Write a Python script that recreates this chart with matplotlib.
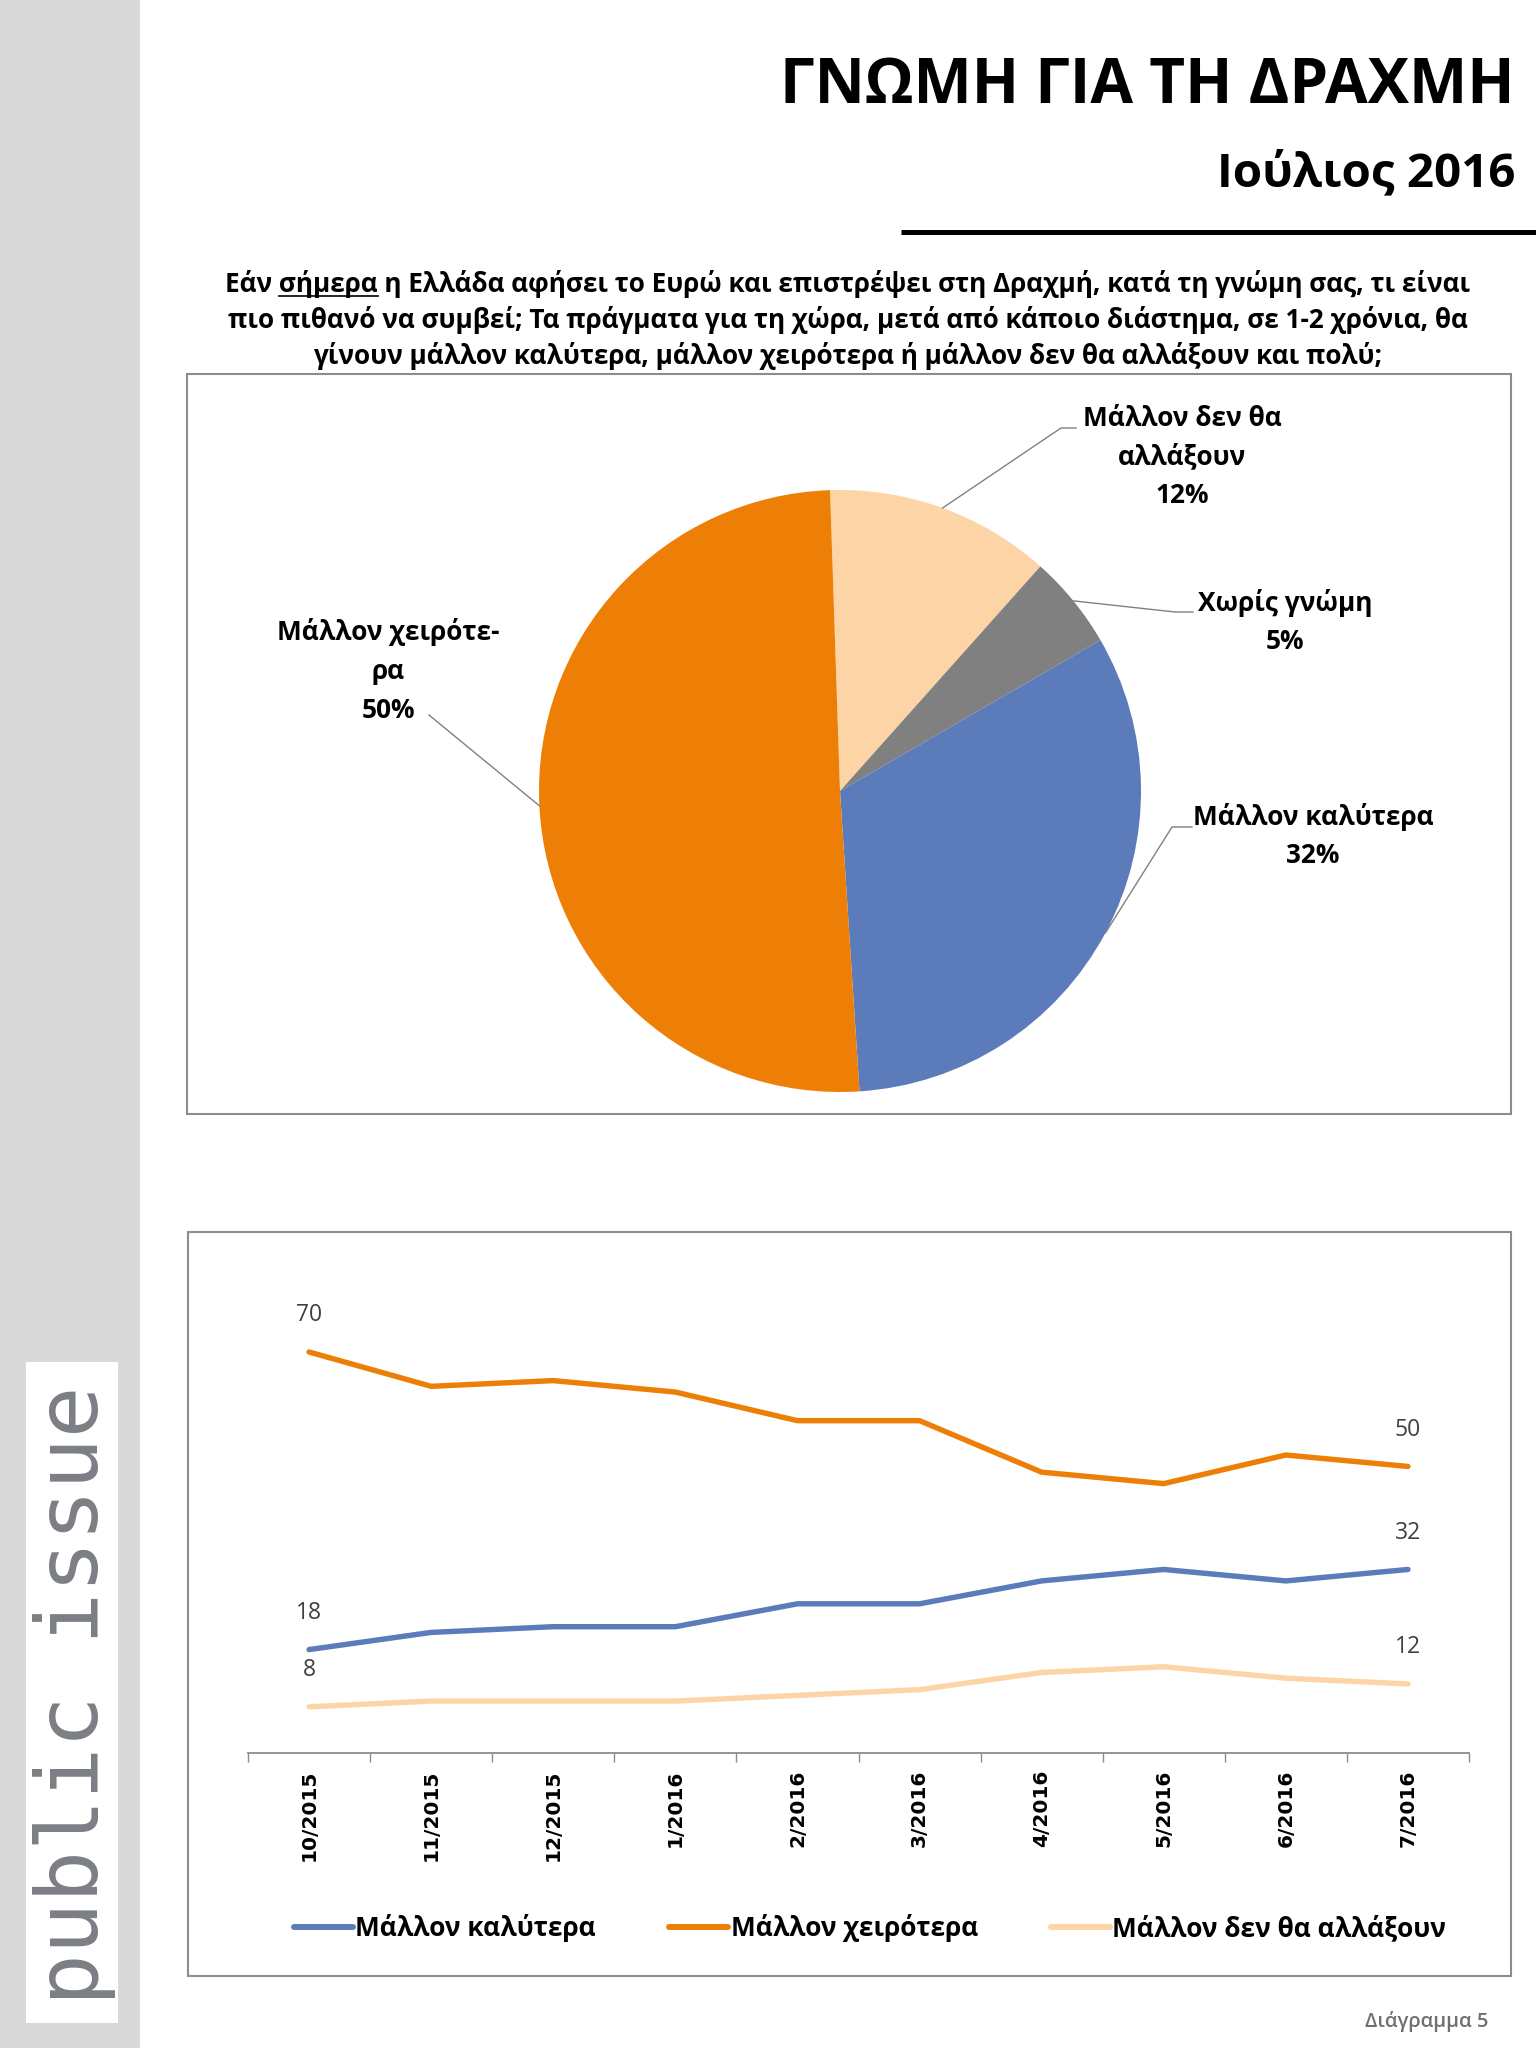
import matplotlib
matplotlib.use("Agg")
import matplotlib.pyplot as plt
import numpy as np
from matplotlib.patches import Rectangle

W, H = 1536, 2048
plt.rcParams['font.family'] = ['Open Sans', 'DejaVu Sans']

# ---------------- data ----------------
title = "ΓΝΩΜΗ ΓΙΑ ΤΗ ΔΡΑΧΜΗ"
subtitle = "Ιούλιος 2016"
question_lines = [
    "Εάν σήμερα η Ελλάδα αφήσει το Ευρώ και επιστρέψει στη Δραχμή, κατά τη γνώμη σας, τι είναι",
    "πιο πιθανό να συμβεί; Τα πράγματα για τη χώρα, μετά από κάποιο διάστημα, σε 1-2 χρόνια, θα",
    "γίνουν μάλλον καλύτερα, μάλλον χειρότερα ή μάλλον δεν θα αλλάξουν και πολύ;",
]
underlined_word = "σήμερα"

pie_labels = ["Μάλλον δεν θα\nαλλάξουν", "Χωρίς γνώμη", "Μάλλον καλύτερα", "Μάλλον χειρότε-\nρα"]
pie_values = [12, 5, 32, 50]
pie_colors = ["#FDD4A6", "#808080", "#5B7BBA", "#EE7F06"]

months = ["10/2015", "11/2015", "12/2015", "1/2016", "2/2016",
          "3/2016", "4/2016", "5/2016", "6/2016", "7/2016"]
series_names = ["Μάλλον καλύτερα", "Μάλλον χειρότερα", "Μάλλον δεν θα αλλάξουν"]
better = [18, 21, 22, 22, 26, 26, 30, 32, 30, 32]
worse = [70, 64, 65, 63, 58, 58, 49, 47, 52, 50]
no_change = [8, 9, 9, 9, 10, 11, 14, 15, 13, 12]
line_colors = ["#5B7BBA", "#EE7F06", "#FDD4A6"]

footer = "Διάγραμμα 5"
logo = "public issue"

# ---------------- figure ----------------
fig = plt.figure(figsize=(W / 100, H / 100), dpi=100)
renderer = fig.canvas.get_renderer()


def rect(x0, y0, x1, y1):
    return [x0 / W, 1 - y1 / H, (x1 - x0) / W, (y1 - y0) / H]


ax_o = fig.add_axes([0, 0, 1, 1], zorder=5)
ax_o.set_xlim(0, W)
ax_o.set_ylim(H, 0)
ax_o.axis('off')
ax_o.patch.set_visible(False)


def width(t):
    return t.get_window_extent(renderer).width


def fit(t, target):
    t.set_fontsize(t.get_fontsize() * target / width(t))
    return t.get_fontsize()


def measure(s, **kw):
    t = ax_o.text(W / 2, H / 2, s, **kw)
    w = width(t)
    t.remove()
    return w


# sidebar + logo
ax_o.add_patch(Rectangle((0, 0), 140, H, facecolor="#D9D9D9", edgecolor='none'))
ax_o.add_patch(Rectangle((26, 1362), 92, 661, facecolor="white", edgecolor='none'))
lg = ax_o.text(98, 1695, logo, rotation=90, rotation_mode='anchor', ha='center',
               va='baseline', color="#7B7E83", fontsize=60, family=['DejaVu Sans Mono'])
bb = lg.get_window_extent(renderer)
lg.set_fontsize(lg.get_fontsize() * 621 / bb.height)

# title & subtitle
t = ax_o.text(1515, 103, title, ha='right', va='baseline', fontsize=46, fontweight='bold')
fit(t, 735)
t = ax_o.text(1515, 186, subtitle, ha='right', va='baseline', fontsize=34, fontweight='bold')
fit(t, 298)
ax_o.plot([901, W], [232, 232], color='black', lw=3.6, solid_capstyle='butt')

# question
qx = 848
qbase = [292, 328, 364]
q0 = ax_o.text(qx, qbase[0], question_lines[0], ha='center', va='baseline',
               fontsize=17, fontweight='bold')
qfs = fit(q0, 1251)
for s, yb in zip(question_lines[1:], qbase[1:]):
    ax_o.text(qx, yb, s, ha='center', va='baseline', fontsize=qfs, fontweight='bold')
w_line = width(q0)
pre = question_lines[0].split(underlined_word)[0] + underlined_word
w_pre = measure(pre, fontsize=qfs, fontweight='bold')
w_word = measure(underlined_word, fontsize=qfs, fontweight='bold')
left = qx - w_line / 2
ax_o.plot([left + w_pre - w_word, left + w_pre], [qbase[0] + 4, qbase[0] + 4],
          color='black', lw=1.2)

# boxes
ax_o.add_patch(Rectangle((187, 374), 1324, 740, facecolor='none', edgecolor='#8C8C8C', lw=1.5))
ax_o.add_patch(Rectangle((188, 1232), 1323, 744, facecolor='none', edgecolor='#8C8C8C', lw=1.5))

# ---------------- pie ----------------
cx, cy, R = 840, 791, 301
ax_p = fig.add_axes(rect(cx - R, cy - R, cx + R, cy + R), zorder=2)
wedges, _ = ax_p.pie(pie_values, colors=pie_colors, startangle=91.9, counterclock=False,
                     radius=1, wedgeprops=dict(linewidth=0))
ax_p.set_xlim(-1, 1)
ax_p.set_ylim(-1, 1)
ax_p.set_aspect('equal')

lfs = 17 * 241 / measure("Μάλλον καλύτερα", fontweight='bold', fontsize=17)
label_pos = [(1182, 457), (1285, 622), (1313, 836), (388, 671)]
leader_pts = [[(1076, 428), (1061, 428)], [(1193, 612), (1175, 612)],
              [(1192, 827), (1172, 827)], [(429, 715)]]
for w, name, v, (lx, ly), pts in zip(wedges, pie_labels, pie_values, label_pos, leader_pts):
    ax_o.text(lx, ly, f"{name}\n{v}%", ha='center', va='center', fontsize=lfs,
              fontweight='bold', linespacing=1.55, color='black')
    mid = np.deg2rad((w.theta1 + w.theta2) / 2)
    disp = ax_p.transData.transform((np.cos(mid), np.sin(mid)))
    ax_pt = ax_o.transData.inverted().transform(disp)
    xs = [p[0] for p in pts] + [ax_pt[0]]
    ys = [p[1] for p in pts] + [ax_pt[1]]
    ax_o.plot(xs, ys, color='#808080', lw=1.0)

# ---------------- line chart ----------------
y0px, ppu = 1752.6, 5.723
ax_l = fig.add_axes(rect(248, y0px - 80 * ppu, 1469, y0px), zorder=2)
ax_l.patch.set_visible(False)
x = np.arange(len(months))
handles = []
for vals, col, name in zip([better, worse, no_change], line_colors, series_names):
    h, = ax_l.plot(x, vals, color=col, lw=3.9, solid_capstyle='round',
                   solid_joinstyle='round', label=name)
    handles.append(h)
    for i in (0, len(vals) - 1):
        ax_l.annotate(str(vals[i]), (x[i], vals[i]), xytext=(0, 26.6),
                      textcoords='offset points', ha='center', va='center',
                      fontsize=16.5, color='#404040')
ax_l.set_xlim(-0.5, len(months) - 0.5)
ax_l.set_ylim(0, 80)
for s in ['left', 'top', 'right']:
    ax_l.spines[s].set_visible(False)
ax_l.spines['bottom'].set_color('#8C8C8C')
ax_l.spines['bottom'].set_linewidth(1.3)
ax_l.set_yticks([])
ax_l.set_xticks(x)
ax_l.set_xticklabels(months, rotation=90, family=['DejaVu Sans'], fontweight='bold',
                     fontsize=14.5, va='top', ha='center')
ax_l.set_xticks(np.arange(-0.5, len(months), 1), minor=True)
ax_l.tick_params(axis='x', which='major', length=0, pad=12)
ax_l.tick_params(axis='x', which='minor', length=6.5, color='#8C8C8C', width=1)

pxpt = lfs * 100 / 72
leg = ax_l.legend(handles=handles, loc='center', bbox_to_anchor=(870 / W, 1 - 1928 / H),
                  bbox_transform=fig.transFigure, ncol=3, frameon=False,
                  prop={'weight': 'bold', 'size': lfs}, handlelength=59 / pxpt,
                  handletextpad=0.1, columnspacing=73 / pxpt, borderpad=0)
for lh in leg.get_lines():
    lh.set_linewidth(4.3)

# footer
ft = ax_o.text(1488, 2021, footer, ha='right', va='center', color='#707070',
               fontsize=15, fontweight='semibold')
fit(ft, 124)

fig.savefig("out.png", dpi=100)
